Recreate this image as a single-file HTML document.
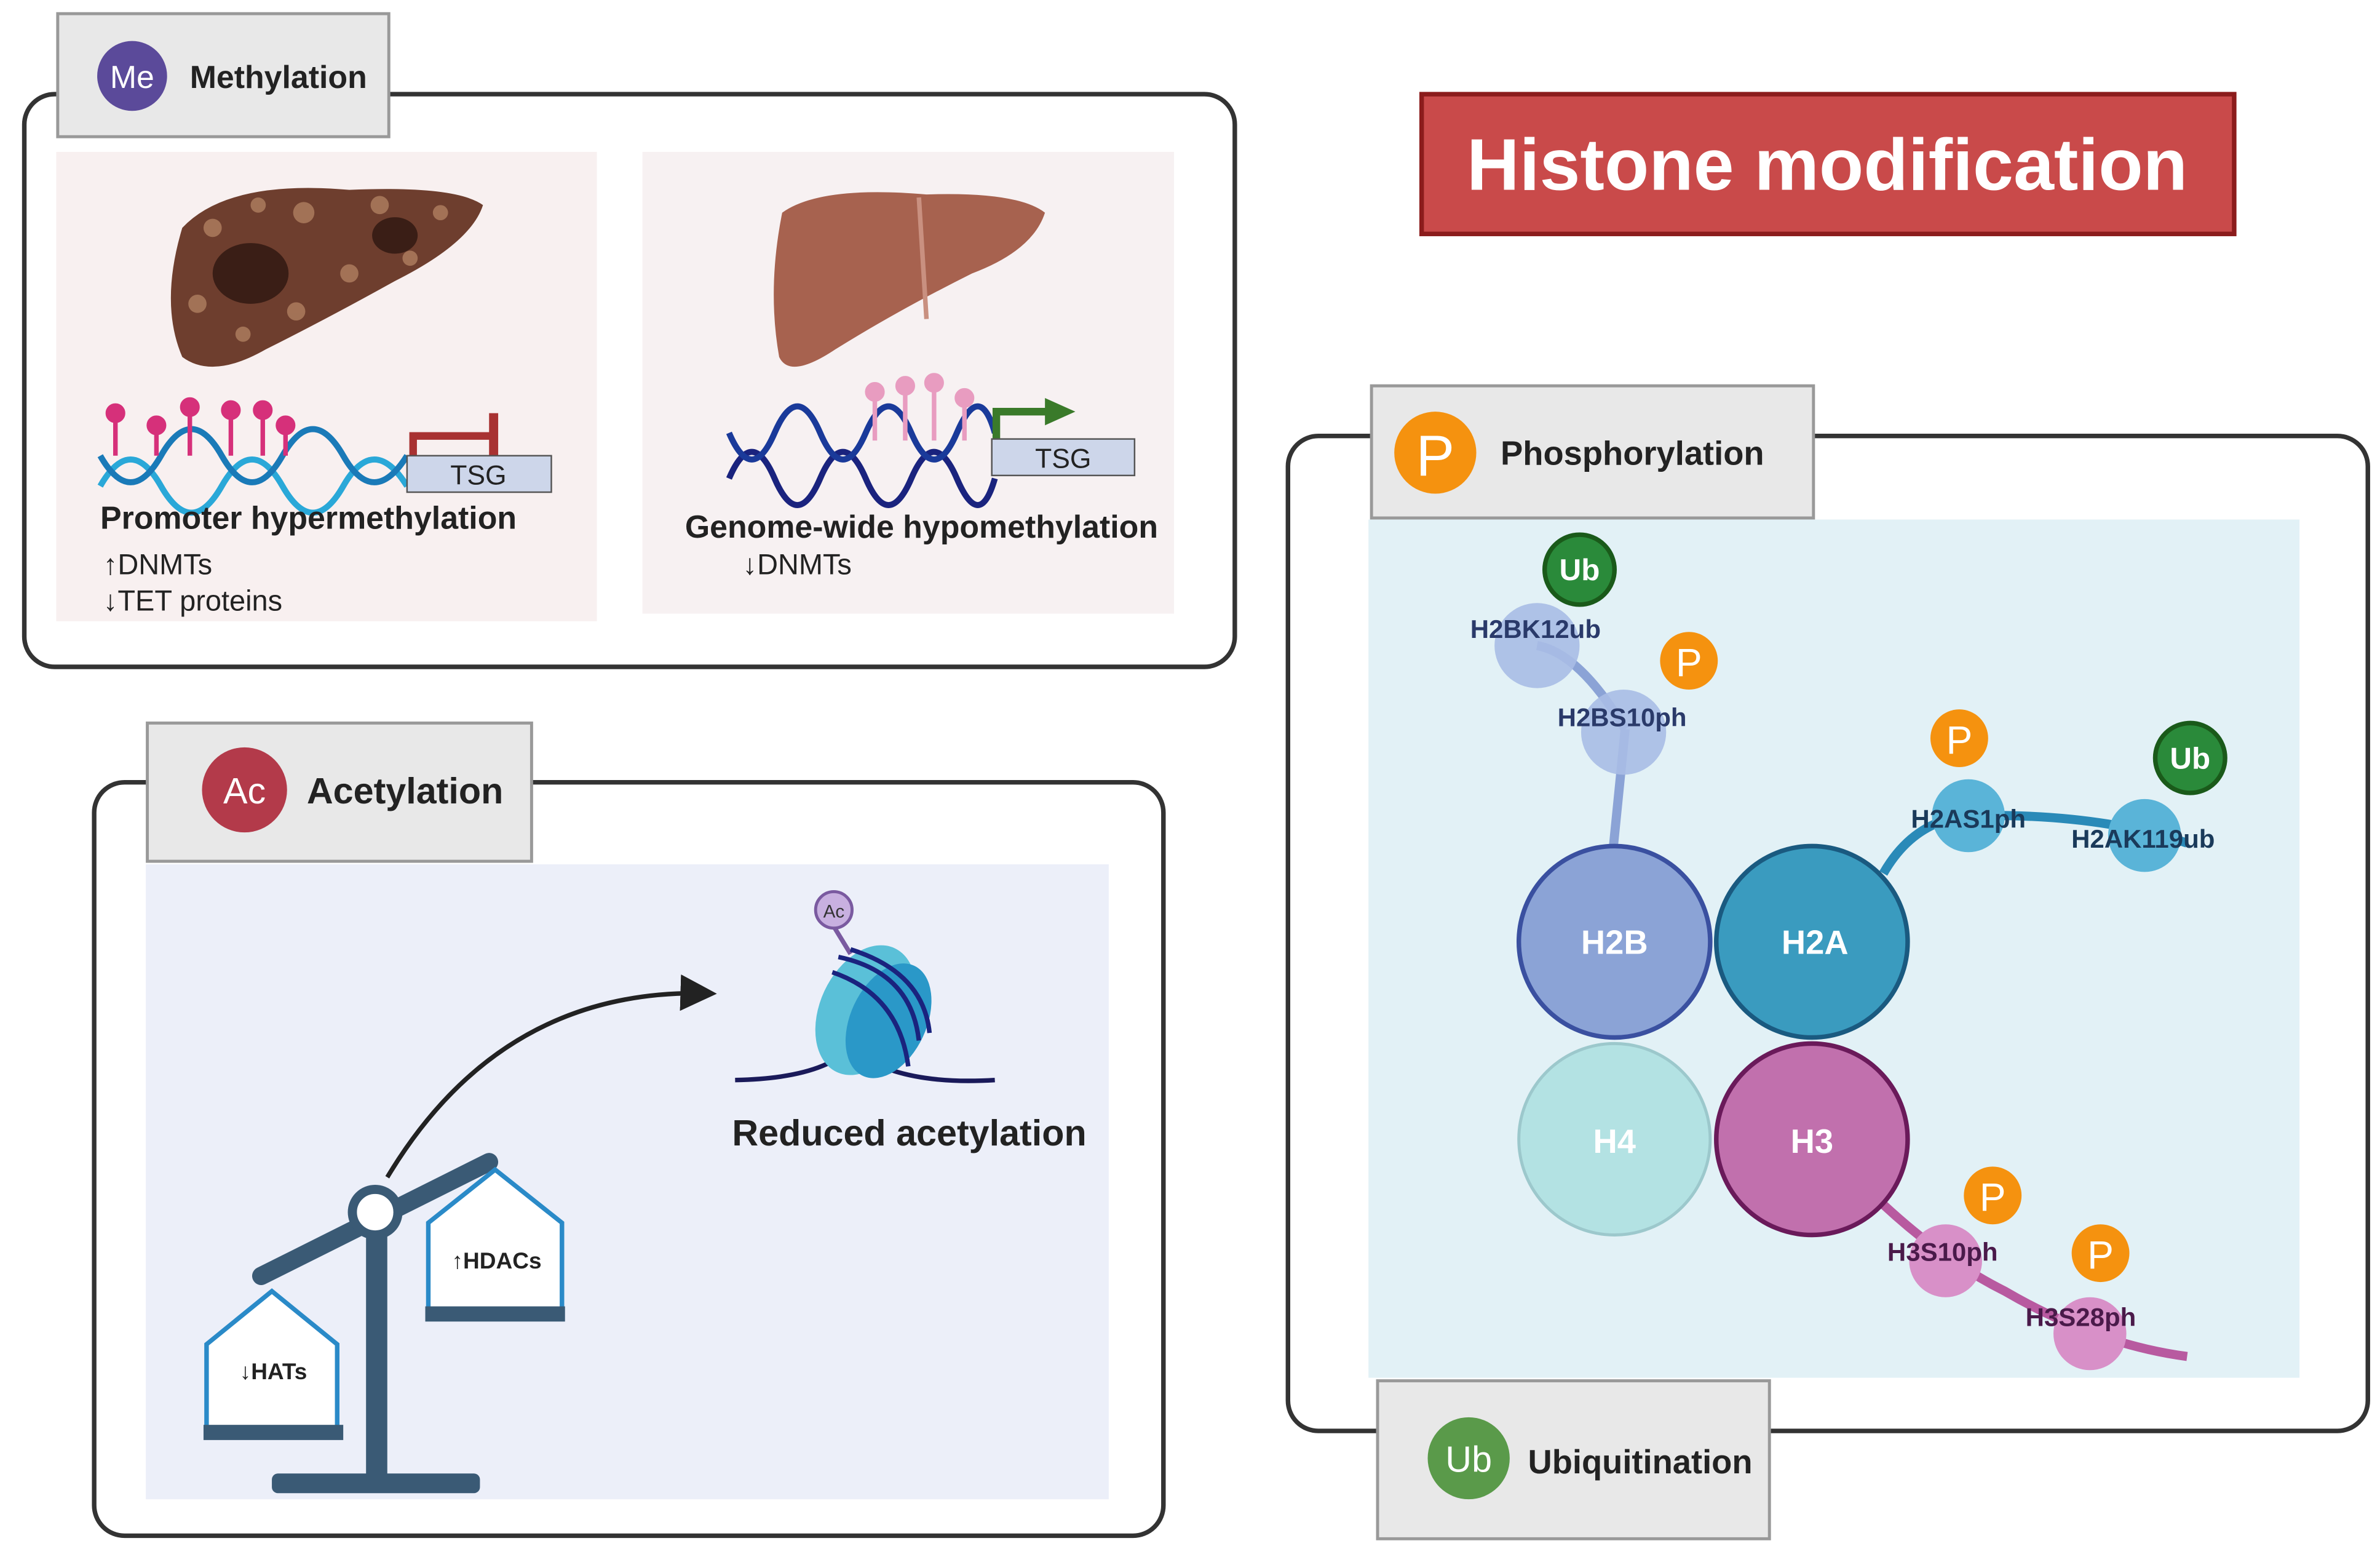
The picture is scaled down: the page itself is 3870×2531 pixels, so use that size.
<!DOCTYPE html>
<html><head><meta charset="utf-8"><style>
html,body{margin:0;padding:0;background:#fff;width:3870px;height:2531px;overflow:hidden}
svg{display:block}
text{font-family:"Liberation Sans",sans-serif}
</style></head><body>
<svg width="3870" height="2531" viewBox="0 0 1567 1025" preserveAspectRatio="none" xmlns="http://www.w3.org/2000/svg">
<defs>
<marker id="ah" markerWidth="8" markerHeight="8" refX="6" refY="4" orient="auto"><path d="M0,0 L8,4 L0,8 z" fill="#222"/></marker>
</defs>
<rect x="16" y="62" width="797" height="377" rx="20" fill="#fff" stroke="#333" stroke-width="3"/>
<rect x="37" y="100" width="356" height="309" fill="#f8f0f0"/>
<rect x="423" y="100" width="350" height="304" fill="#f7f1f2"/>
<rect x="38" y="9" width="218" height="81" fill="#e8e8e8" stroke="#999" stroke-width="2"/>
<circle cx="87" cy="50" r="23" fill="#5b4a9a"/>
<text x="87" y="58" fill="#fff" font-size="21" text-anchor="middle">Me</text>
<text x="125" y="58" font-size="21" font-weight="bold" fill="#222">Methylation</text>
<path d="M120,150 Q150,118 230,125 Q300,122 318,135 Q310,160 260,185 Q215,210 175,230 Q140,250 120,235 Q105,200 120,150 Z" fill="#6e3e2e"/>
<g fill="#b08060" opacity="0.8"><circle cx="140" cy="150" r="6"/><circle cx="170" cy="135" r="5"/><circle cx="200" cy="140" r="7"/><circle cx="250" cy="135" r="6"/><circle cx="290" cy="140" r="5"/><circle cx="130" cy="200" r="6"/><circle cx="160" cy="220" r="5"/><circle cx="230" cy="180" r="6"/><circle cx="270" cy="170" r="5"/><circle cx="195" cy="205" r="6"/></g>
<ellipse cx="165" cy="180" rx="25" ry="20" fill="#3a1e16"/><ellipse cx="260" cy="155" rx="15" ry="12" fill="#3a1e16"/>
<path d="M66,320 Q86,285 106,320 T146,320 T186,320 T226,320 T268,320" fill="none" stroke="#2aa8d8" stroke-width="4"/>
<path d="M66,300 Q86,335 106,300 T146,300 T186,300 T226,300 T268,300" fill="none" stroke="#1a7ab8" stroke-width="4"/>
<g stroke="#d6307a" stroke-width="3" fill="#d6307a"><line x1="76" y1="272" x2="76" y2="300"/><circle cx="76" cy="272" r="5"/><line x1="103" y1="280" x2="103" y2="300"/><circle cx="103" cy="280" r="5"/><line x1="125" y1="268" x2="125" y2="300"/><circle cx="125" cy="268" r="5"/><line x1="152" y1="270" x2="152" y2="300"/><circle cx="152" cy="270" r="5"/><line x1="173" y1="270" x2="173" y2="300"/><circle cx="173" cy="270" r="5"/><line x1="188" y1="280" x2="188" y2="300"/><circle cx="188" cy="280" r="5"/></g>
<path d="M272,300 L272,287 L325,287" fill="none" stroke="#a83232" stroke-width="5"/>
<line x1="325" y1="272" x2="325" y2="300" stroke="#a83232" stroke-width="6"/>
<rect x="268" y="300" width="95" height="24" fill="#cdd6ea" stroke="#555"/>
<text x="315" y="319" font-size="18" text-anchor="middle" fill="#222">TSG</text>
<text x="66" y="348" font-size="21" font-weight="bold" fill="#222">Promoter hypermethylation</text>
<text x="68" y="378" font-size="19" fill="#222">↑DNMTs</text>
<text x="68" y="402" font-size="19" fill="#222">↓TET proteins</text>
<path d="M515,140 Q540,122 610,128 Q670,126 688,140 Q680,165 640,180 Q590,205 550,230 Q520,250 513,235 Q505,190 515,140 Z" fill="#a7624f"/>
<line x1="605" y1="130" x2="610" y2="210" stroke="#c99080" stroke-width="3"/>
<path d="M480,315 Q495,280 510,315 T540,315 T570,315 T600,315 T630,315 T655,315" fill="none" stroke="#1a237e" stroke-width="4"/>
<path d="M480,285 Q495,320 510,285 T540,285 T570,285 T600,285 T630,285 T655,285" fill="none" stroke="#1a3a9a" stroke-width="4"/>
<g stroke="#e89cc0" stroke-width="3" fill="#e89cc0"><line x1="576" y1="258" x2="576" y2="290"/><circle cx="576" cy="258" r="5"/><line x1="596" y1="254" x2="596" y2="290"/><circle cx="596" cy="254" r="5"/><line x1="615" y1="252" x2="615" y2="290"/><circle cx="615" cy="252" r="5"/><line x1="635" y1="262" x2="635" y2="290"/><circle cx="635" cy="262" r="5"/></g>
<path d="M656,289 L656,271 L690,271" fill="none" stroke="#3a7a2a" stroke-width="5"/>
<path d="M688,262 L708,271 L688,280 z" fill="#3a7a2a"/>
<rect x="653" y="289" width="94" height="24" fill="#cdd6ea" stroke="#555"/>
<text x="700" y="308" font-size="18" text-anchor="middle" fill="#222">TSG</text>
<text x="451" y="354" font-size="21" font-weight="bold" fill="#222">Genome-wide hypomethylation</text>
<text x="489" y="378" font-size="19" fill="#222">↓DNMTs</text>
<rect x="936" y="62" width="535" height="92" fill="#c94a4a" stroke="#8b1c1c" stroke-width="3"/>
<text x="1203" y="125" font-size="48" font-weight="bold" fill="#fff" text-anchor="middle">Histone modification</text>
<rect x="62" y="515" width="704" height="496" rx="20" fill="#fff" stroke="#333" stroke-width="3"/>
<rect x="96" y="569" width="634" height="418" fill="#eceff9"/>
<rect x="97" y="476" width="253" height="91" fill="#e8e8e8" stroke="#999" stroke-width="2"/>
<circle cx="161" cy="520" r="28" fill="#b33a4a"/>
<text x="161" y="529" font-size="24" fill="#fff" text-anchor="middle">Ac</text>
<text x="202" y="529" font-size="24" font-weight="bold" fill="#222">Acetylation</text>
<path d="M255,775 Q330,650 466,654" fill="none" stroke="#222" stroke-width="3" marker-end="url(#ah)"/>
<rect x="179" y="970" width="137" height="13" rx="4" fill="#3a5a75"/>
<rect x="241" y="805" width="14" height="170" fill="#3a5a75"/>
<line x1="172" y1="840" x2="322" y2="765" stroke="#3a5a75" stroke-width="12" stroke-linecap="round"/>
<circle cx="247" cy="798" r="15" fill="#fff" stroke="#3a5a75" stroke-width="6"/>
<path d="M136,940 L136,885 L179,850 L222,885 L222,940" fill="#fff" stroke="#2a8ac8" stroke-width="3"/>
<rect x="134" y="938" width="92" height="10" fill="#3a5a75"/>
<text x="180" y="908" font-size="15" font-weight="bold" text-anchor="middle" fill="#222">↓HATs</text>
<path d="M282,862 L282,805 L326,770 L370,805 L370,862" fill="#fff" stroke="#2a8ac8" stroke-width="3"/>
<rect x="280" y="860" width="92" height="10" fill="#3a5a75"/>
<text x="327" y="835" font-size="15" font-weight="bold" text-anchor="middle" fill="#222">↑HDACs</text>
<path d="M484,711 Q540,710 560,690 Q590,715 655,711" fill="none" stroke="#1a1a5a" stroke-width="3"/>
<line x1="549" y1="610" x2="560" y2="628" stroke="#7a5aa0" stroke-width="3"/>
<ellipse cx="570" cy="665" rx="30" ry="45" transform="rotate(25 570 665)" fill="#5ac0d8"/>
<ellipse cx="585" cy="672" rx="25" ry="40" transform="rotate(25 585 672)" fill="#2a98c8"/>
<g fill="none" stroke="#1a237e" stroke-width="3"><path d="M552,630 Q600,640 605,685"/><path d="M560,625 Q608,640 612,680"/><path d="M548,640 Q592,655 598,702"/></g>
<circle cx="549" cy="599" r="12" fill="#c8b0e0" stroke="#7a5aa0" stroke-width="2"/>
<text x="549" y="604" font-size="12" text-anchor="middle" fill="#333">Ac</text>
<text x="482" y="754" font-size="24" font-weight="bold" fill="#222">Reduced acetylation</text>
<rect x="848" y="287" width="711" height="655" rx="20" fill="#fff" stroke="#333" stroke-width="3"/>
<rect x="901" y="342" width="613" height="565" fill="#e2f1f6"/>
<rect x="903" y="254" width="291" height="87" fill="#e8e8e8" stroke="#999" stroke-width="2"/>
<circle cx="945" cy="298" r="27" fill="#f5920f"/>
<text x="945" y="313" font-size="38" fill="#fff" text-anchor="middle">P</text>
<text x="988" y="306" font-size="22" font-weight="bold" fill="#222">Phosphorylation</text>
<rect x="907" y="909" width="258" height="104" fill="#e8e8e8" stroke="#999" stroke-width="2"/>
<circle cx="967" cy="960" r="27" fill="#5a9a4a"/>
<text x="967" y="969" font-size="24" fill="#fff" text-anchor="middle">Ub</text>
<text x="1006" y="970" font-size="22" font-weight="bold" fill="#222">Ubiquitination</text>
<path d="M1062,560 L1070,480 M1070,480 Q1040,430 1012,425" fill="none" stroke="#8ba3d6" stroke-width="6"/>
<circle cx="1012" cy="425" r="28" fill="#a8bde6" opacity="0.9"/>
<circle cx="1069" cy="482" r="28" fill="#a8bde6" opacity="0.9"/>
<path d="M1240,575 Q1260,540 1296,537 Q1380,535 1440,555" fill="none" stroke="#2a8ab8" stroke-width="6"/>
<circle cx="1296" cy="537" r="24" fill="#5ab4d8"/>
<circle cx="1412" cy="550" r="24" fill="#5ab4d8"/>
<path d="M1240,793 Q1280,830 1320,850 Q1380,885 1440,893" fill="none" stroke="#b85aa0" stroke-width="6"/>
<circle cx="1281" cy="830" r="24" fill="#d890c8"/>
<circle cx="1376" cy="878" r="24" fill="#d890c8"/>
<circle cx="1063" cy="620" r="63" fill="#8ba3d6" stroke="#3a50a0" stroke-width="3"/>
<circle cx="1193" cy="620" r="63" fill="#3a9bbf" stroke="#1a5a80" stroke-width="3"/>
<circle cx="1063" cy="750" r="63" fill="#b3e2e3" stroke="#9cc8cc" stroke-width="2"/>
<circle cx="1193" cy="750" r="63" fill="#c170ad" stroke="#6a1a5a" stroke-width="3"/>
<g font-size="22" font-weight="bold" fill="#fff" text-anchor="middle"><text x="1063" y="628">H2B</text><text x="1195" y="628">H2A</text><text x="1063" y="759">H4</text><text x="1193" y="759">H3</text></g>
<g font-size="17" font-weight="bold" text-anchor="middle">
<circle cx="1040" cy="375" r="23" fill="#2a8a3a" stroke="#1a5a1a" stroke-width="3"/><text x="1040" y="382" fill="#fff" font-size="20">Ub</text>
<circle cx="1442" cy="499" r="23" fill="#2a8a3a" stroke="#1a5a1a" stroke-width="3"/><text x="1442" y="506" fill="#fff" font-size="20">Ub</text>
<circle cx="1112" cy="435" r="19" fill="#f5920f"/><text x="1112" y="445" fill="#fff" font-size="26" font-weight="normal">P</text>
<circle cx="1290" cy="486" r="19" fill="#f5920f"/><text x="1290" y="496" fill="#fff" font-size="26" font-weight="normal">P</text>
<circle cx="1312" cy="787" r="19" fill="#f5920f"/><text x="1312" y="797" fill="#fff" font-size="26" font-weight="normal">P</text>
<circle cx="1383" cy="825" r="19" fill="#f5920f"/><text x="1383" y="835" fill="#fff" font-size="26" font-weight="normal">P</text>
<text x="1011" y="420" fill="#2a3a6a">H2BK12ub</text>
<text x="1068" y="478" fill="#2a3a6a">H2BS10ph</text>
<text x="1296" y="545" fill="#1a3a5a">H2AS1ph</text>
<text x="1411" y="558" fill="#1a3a5a">H2AK119ub</text>
<text x="1279" y="830" fill="#4a1a4a">H3S10ph</text>
<text x="1370" y="873" fill="#4a1a4a">H3S28ph</text>
</g>
</svg>
</body></html>
